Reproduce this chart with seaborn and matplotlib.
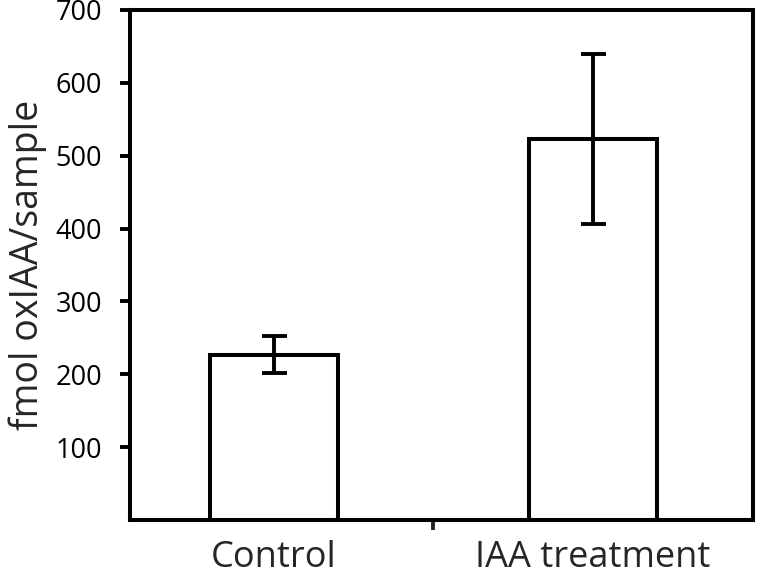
import numpy as np
import pandas as pd
import seaborn as sns
import matplotlib.pyplot as plt

groups = ['Control', 'IAA treatment']
means = [227, 523]
errors = [25, 117]
y_ticks = [100, 200, 300, 400, 500, 600, 700]

df = pd.DataFrame({'group': groups, 'oxIAA': means})

sns.set_style('white')
plt.rcParams['font.family'] = ['Open Sans', 'DejaVu Sans']

fig = plt.figure(figsize=(7.59, 5.78), dpi=100)
ax = fig.add_axes([0.171, 0.100, 0.821, 0.883])

sns.barplot(data=df, x='group', y='oxIAA', color='white', edgecolor='black',
            linewidth=2.9, width=0.4, errorbar=None, ax=ax)
ax.errorbar(x=np.arange(len(groups)), y=means, yerr=errors, fmt='none',
            ecolor='black', elinewidth=2.8, capsize=9, capthick=2.8)

ax.set_xlim(-0.45, 1.5)
ax.set_ylim(0, 700)
ax.set_yticks(y_ticks)
ax.tick_params(axis='y', direction='out', length=7, width=2.8, pad=13,
               labelsize=19.5, left=True, colors='black')

# only a separator tick between the two groups, labels sit under the bars
ax.set_xticks([0.5])
ax.set_xticklabels([''])
ax.tick_params(axis='x', direction='out', length=7, width=2.8, bottom=True)
for i, g in enumerate(groups):
    ax.text(i, -0.075, g, transform=ax.get_xaxis_transform(), ha='center',
            va='center', fontsize=26)

ax.set_xlabel('')
ax.set_ylabel('fmol oxIAA/sample', fontsize=27, labelpad=6)

for s in ax.spines.values():
    s.set_visible(True)
    s.set_color('black')
    s.set_linewidth(2.9)

fig.savefig('out.png', dpi=100)
